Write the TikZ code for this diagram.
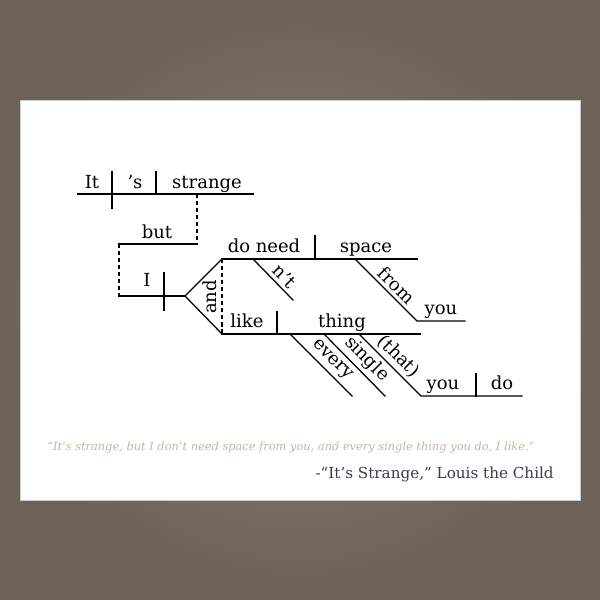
\documentclass[tikz,border=0pt]{standalone}
\usepackage{fontspec}
\setmainfont{DejaVu Serif}
\definecolor{mat}{RGB}{108,98,88}
\definecolor{matlight}{RGB}{138,126,113}
\definecolor{quotetan}{RGB}{196,181,166}
\definecolor{creditblue}{RGB}{52,62,88}
\tikzstyle{rule} = [line width=0.9pt, line cap=rect]
\tikzstyle{link} = [line width=0.9pt, dash pattern=on 3pt off 2pt]
\tikzstyle{word} = [inner sep=0pt, anchor=base,
    font=\fontsize{12.8}{14}\selectfont]
\tikzstyle{slantword} = [inner sep=2.5pt, anchor=south, rotate=-45,
    font=\fontsize{12.8}{14}\selectfont]

\begin{document}
\begin{tikzpicture}[x=0.025cm, y=-0.025cm]
    % Frame and white card
    \useasboundingbox (0,0) rectangle (600,600);
    \shade[inner color=matlight, outer color=mat] (0,0) rectangle (600,600);
    \fill[white] (20,100) rectangle (580,500);
    \draw[black!20, line width=0.4pt] (20,100) rectangle (580,500);

    % Main clause: It 's strange
    \coordinate (s0) at (78,194);
    \coordinate (s1) at (253,194);
    \coordinate (strange) at (197,194);
    \draw[rule] (s0) -- (s1);
    \draw[rule] (112,172) -- (112,208);
    \draw[rule] (156,172) -- (156,194);
    \node[word] (it) at (92,188) {It};
    \node[word] (is) at (135,188) {’s};
    \node[word] (str) at (207,188) {strange};

    % Conjunction "but" hangs from strange
    \coordinate (but1) at (197,244);
    \coordinate (but0) at (119,244);
    \coordinate (i0) at (119,296);
    \draw[link] (strange) -- (but1);
    \draw[rule] (but0) -- (but1);
    \node[word] (but) at (157,238) {but};
    \draw[link] (but0) -- (i0);

    % Second clause: subject I and the fork
    \coordinate (fork) at (185,296);
    \draw[rule] (i0) -- (fork);
    \draw[rule] (164,273) -- (164,310);
    \node[word] (I) at (147,286) {I};
    \coordinate (up0) at (222,259);
    \coordinate (lo0) at (222,334);
    \draw[rule] (fork) -- (up0);
    \draw[rule] (fork) -- (lo0);
    \draw[link] (up0) -- (lo0);
    \node[inner sep=0pt, rotate=90, font=\fontsize{12.8}{14}\selectfont] (and) at (210,297) {and};

    % Upper predicate: do need space from you
    \coordinate (up1) at (417,259);
    \draw[rule] (up0) -- (up1);
    \draw[rule] (315,236) -- (315,259);
    \node[word] (need) at (264,252) {do need};
    \node[word] (space) at (366,252) {space};
    \coordinate (nt0) at (253,259);
    \coordinate (nt1) at (293,300);
    \draw[rule] (nt0) -- node[slantword, pos=0.6] (not) {n’t} (nt1);
    \coordinate (fr0) at (355,259);
    \coordinate (fr1) at (417,321);
    \coordinate (fr2) at (465,321);
    \draw[rule] (fr0) -- node[slantword, pos=0.55] (from) {from} (fr1) -- (fr2);
    \node[word] (you1) at (441,314) {you};

    % Lower predicate: like thing, with its modifiers
    \coordinate (lo1) at (420,334);
    \draw[rule] (lo0) -- (lo1);
    \draw[rule] (277,312) -- (277,334);
    \node[word] (like) at (247,327) {like};
    \node[word] (thing) at (342,327) {thing};
    \draw[rule] (290,334) -- node[slantword, pos=0.55] (every) {every} (352,396);
    \draw[rule] (324,334) -- node[slantword, pos=0.55] (single) {single} (385,396);
    \coordinate (th0) at (359,334);
    \coordinate (th1) at (421,396);
    \coordinate (th2) at (522,396);
    \draw[rule] (th0) -- node[slantword, pos=0.5] (that) {(that)} (th1) -- (th2);
    \draw[rule] (476,374) -- (476,396);
    \node[word] (you2) at (443,389) {you};
    \node[word] (do) at (502,389) {do};

    % Quote and credit
    \node[anchor=base west, inner sep=0pt, text=quotetan,
        font=\fontsize{8.1}{9}\selectfont\itshape] (quote) at (47,450)
        {“It’s strange, but I don’t need space from you, and every single thing you do, I like.”};
    \node[anchor=base east, inner sep=0pt, text=creditblue,
        font=\fontsize{10.8}{12}\selectfont] (credit) at (554,478)
        {-“It’s Strange,” Louis the Child};
\end{tikzpicture}
\end{document}
